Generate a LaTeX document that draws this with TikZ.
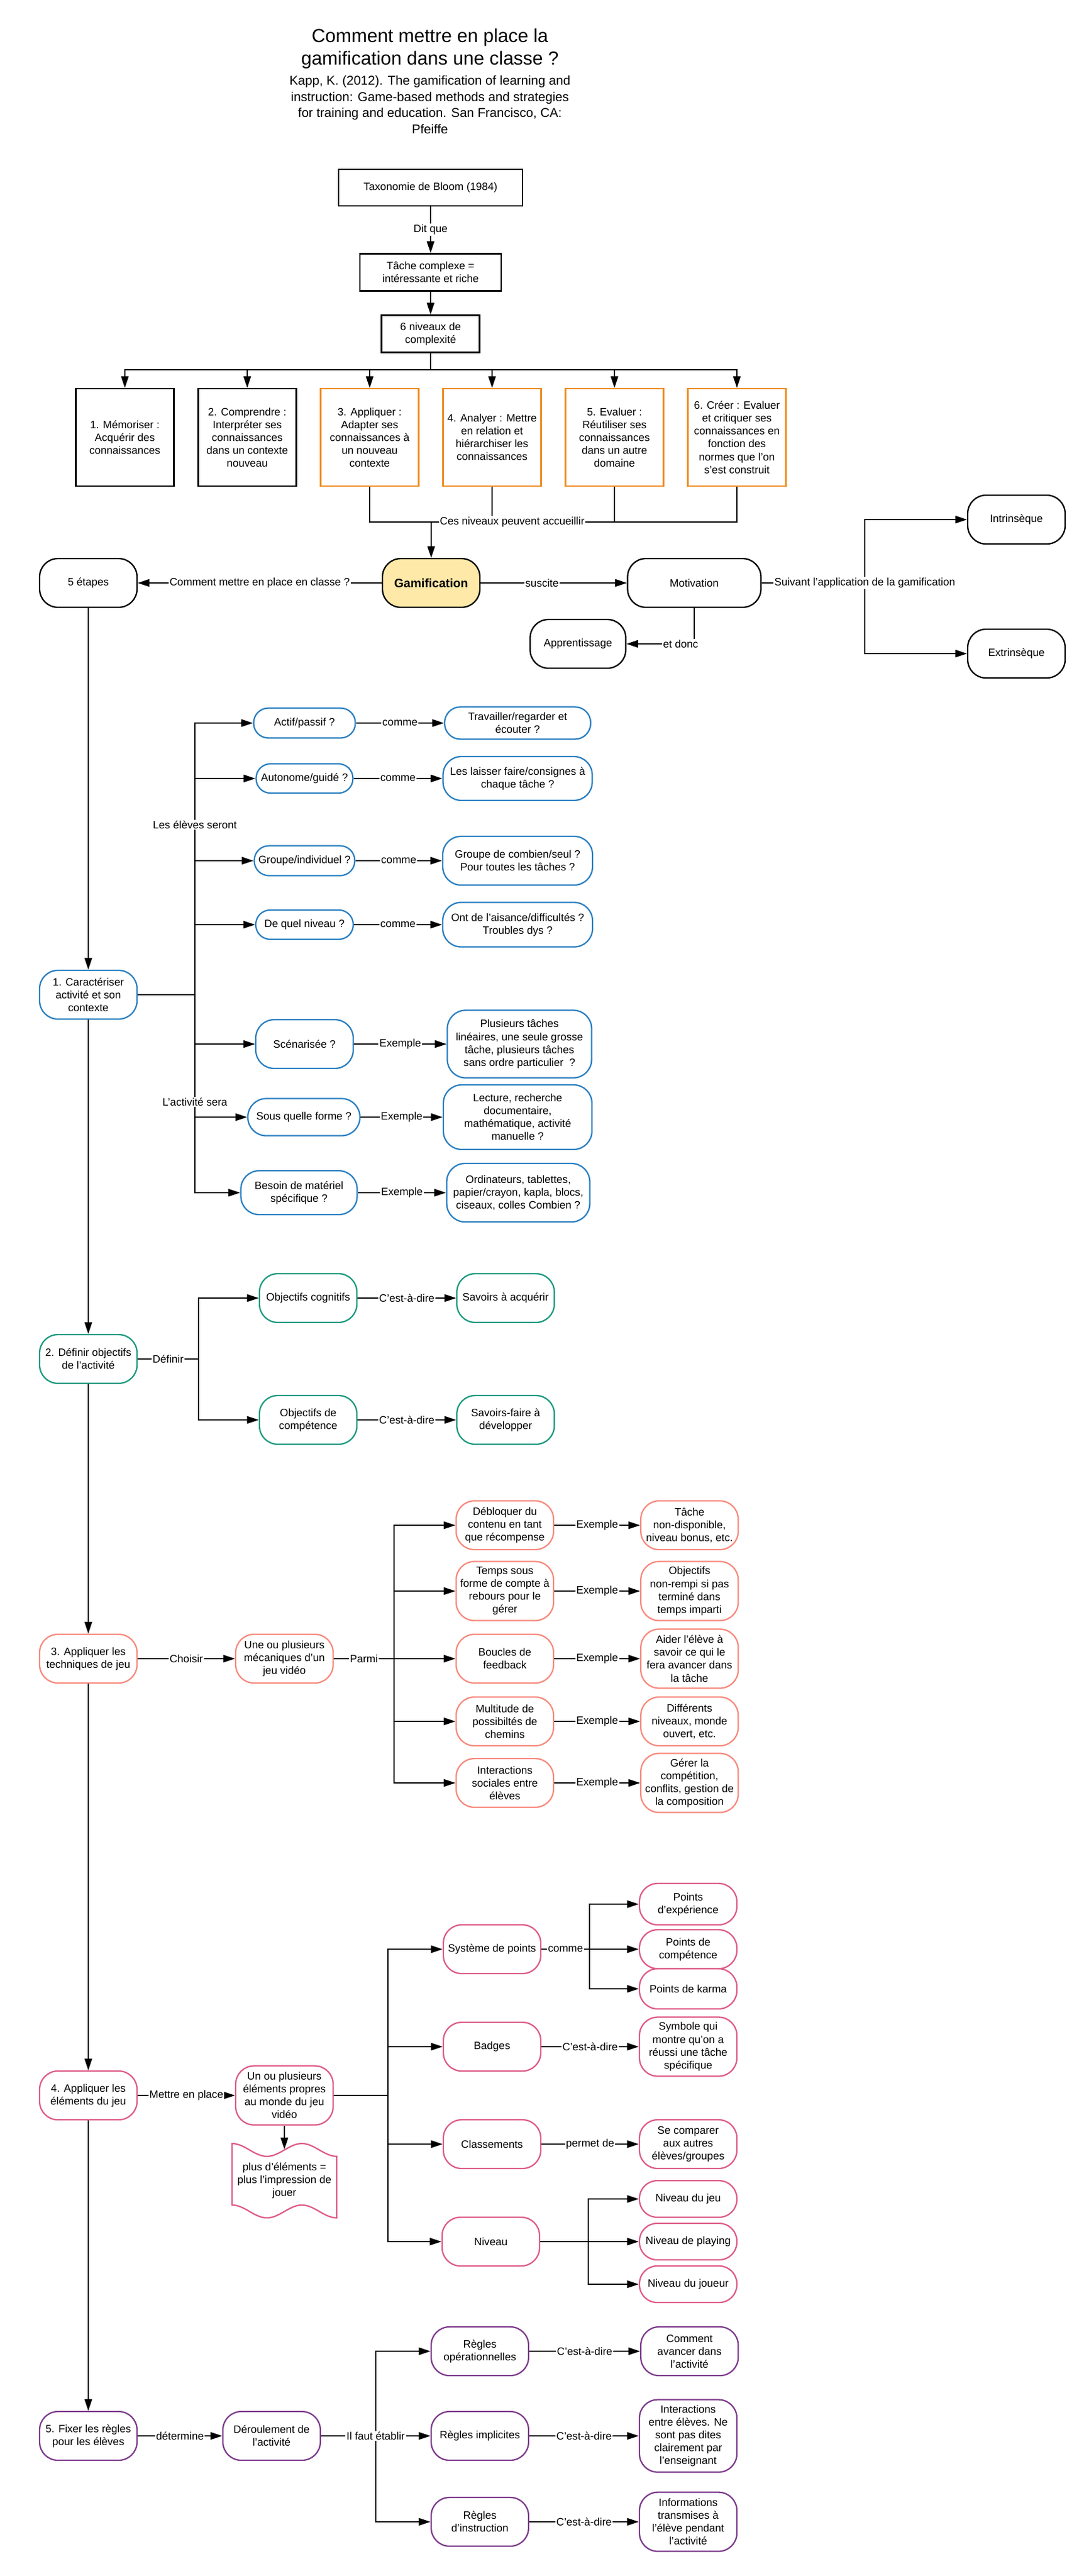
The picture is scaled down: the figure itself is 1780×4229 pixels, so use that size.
\documentclass[tikz,border=0pt]{standalone}
\usepackage{fontspec}
\setmainfont{Liberation Sans}
\usetikzlibrary{arrows.meta,positioning}

\definecolor{orangeb}{HTML}{EF8D22}
\definecolor{bleu}{HTML}{2A7FC1}
\definecolor{sarcelle}{HTML}{1C9A80}
\definecolor{saumon}{HTML}{F8897C}
\definecolor{rose}{HTML}{DE5B86}
\definecolor{violet}{HTML}{7D3A8C}
\definecolor{jaune}{HTML}{FFE9A8}

\tikzset{
  texte/.style={font=\fontsize{10}{12}\selectfont},
  lbl/.style={texte, fill=white, inner sep=1pt},
  cadre/.style={texte, draw, line width=1.3pt, align=center, inner sep=2pt},
  palier/.style={cadre, minimum width=3.22cm, minimum height=3.2cm},
  largeur/.style={minimum width=#1},
  bulle/.style={texte, draw, line width=1.3pt, align=center, rectangle,
    rounded corners=0.6cm, inner sep=2pt, minimum width=3.2cm, minimum height=1.6cm},
  hauteur/.style n args={2}{minimum height=#1cm, rounded corners=#2cm},
  s1/.style={bulle, draw=bleu},
  s2/.style={bulle, draw=sarcelle},
  s3/.style={bulle, draw=saumon},
  s4/.style={bulle, draw=rose},
  s5/.style={bulle, draw=violet}
}

\begin{document}
\begin{tikzpicture}[x=0.02cm, y=-0.02cm, >={Triangle[length=11pt,width=7pt]}, line width=1.1pt]
    \useasboundingbox (0,0) rectangle (1780,4229);

    % titre
    \node[font=\fontsize{17.6}{21}\selectfont, align=center] (titre) at (706,80) {Comment mettre en place la\\gamification dans une classe ?};
    \node[font=\fontsize{12}{15.3}\selectfont, align=center] (source) at (706,172) {Kapp, K. (2012). The gamification of learning and\\instruction: Game-based methods and strategies\\for training and education. San Francisco, CA:\\Pfeiffe};

    % Bloom
    \node[cadre, minimum width=6.04cm, minimum height=1.2cm] (bloom) at (707,308) {Taxonomie de Bloom (1984)};
    \node[cadre, minimum width=4.64cm, minimum height=1.22cm] (tache) at (707,447) {Tâche complexe =\\intéressante et riche}; \draw[->] (bloom) -- node[lbl]{Dit que} (tache);
    \node[cadre, minimum width=3.22cm, minimum height=1.22cm] (six) at (707,548) {6 niveaux de\\complexité}; \draw[->] (tache) -- (six);

    \node[palier] (n1) at (205,718) {1. Mémoriser :\\Acquérir des\\connaissances};
    \node[palier] (n2) at (406,718) {2. Comprendre :\\Interpréter ses\\connaissances\\dans un contexte\\nouveau};
    \node[palier, draw=orangeb] (n3) at (607,718) {3. Appliquer :\\Adapter ses\\connaissances à\\un nouveau\\contexte};
    \node[palier, draw=orangeb] (n4) at (808,718) {4. Analyer : Mettre\\en relation et\\hiérarchiser les\\connaissances};
    \node[palier, draw=orangeb] (n5) at (1009,718) {5. Evaluer :\\Réutiliser ses\\connaissances\\dans un autre\\domaine};
    \node[palier, draw=orangeb] (n6) at (1210,718) {6. Créer : Evaluer\\et critiquer ses\\connaissances en\\fonction des\\normes que l'on\\s'est construit};
    \coordinate (barre) at (707,607); \draw (six) -- (barre);
    \foreach \i in {1,...,6} \draw[->] (barre) -| (n\i);

    % gamification
    \node[bulle, fill=jaune, font=\bfseries\fontsize{11.4}{13}\selectfont] (gamif) at (708,957) {Gamification};
    \coordinate (accueil) at (708,857);
    \draw (n3) |- (accueil) -| (n6);
    \draw (n4) -- (n4 |- accueil); \draw (n5) -- (n5 |- accueil);
    \node[lbl] (accueillir) at (841,857) {Ces niveaux peuvent accueillir};
    \draw[->] (accueil) -- (gamif);

    \node[bulle] (etapes) at (145,957) {5 étapes}; \draw[->] (gamif) -- node[lbl]{Comment mettre en place en classe ?} (etapes);
    \node[bulle, largeur=4.38cm] (motiv) at (1140,957) {Motivation}; \draw[->] (gamif) -- node[lbl, pos=0.42]{suscite} (motiv);
    \node[bulle, largeur=3.14cm] (apprent) at (949,1057) {Apprentissage}; \draw[->] (motiv) |- node[lbl, pos=0.6]{et donc} (apprent);
    \node[bulle] (intrin) at (1669,853) {Intrinsèque};
    \node[bulle] (extrin) at (1669,1073) {Extrinsèque};
    \coordinate (suivant) at (1420,957); \draw (motiv) -- (suivant);
    \draw[->] (suivant) |- (intrin); \draw[->] (suivant) |- (extrin);
    \node[lbl] (suiv) at (suivant) {Suivant l'application de la gamification};

    % 1. caracteriser
    \node[s1] (carac) at (145,1633) {1. Caractériser\\activité et son\\contexte}; \draw[->] (etapes) -- (carac);
    \coordinate (b1) at (320,1633); \draw (carac) -- (b1);
    \node[s1, largeur=3.34cm, hauteur={0.98}{0.48}] (actif) at (500,1187) {Actif/passif ?}; \draw[->] (b1) |- (actif);
    \node[s1, largeur=4.8cm, hauteur={1.06}{0.52}] (trav) at (850,1187) {Travailler/regarder et\\écouter ?}; \draw[->] (actif) -- node[lbl]{comme} (trav);
    \node[s1, largeur=3.18cm, hauteur={0.96}{0.47}] (auto) at (500,1278) {Autonome/guidé ?}; \draw[->] (b1) |- (auto);
    \node[s1, largeur=4.9cm, hauteur={1.44}{0.6}] (laisser) at (850,1278) {Les laisser faire/consignes à\\chaque tâche ?}; \draw[->] (auto) -- node[lbl]{comme} (laisser);
    \node[s1, largeur=3.3cm, hauteur={0.98}{0.48}] (groupe) at (500,1413) {Groupe/individuel ?}; \draw[->] (b1) |- (groupe);
    \node[s1, largeur=4.92cm] (combien) at (850,1413) {Groupe de combien/seul ?\\Pour toutes les tâches ?}; \draw[->] (groupe) -- node[lbl]{comme} (combien);
    \node[s1, hauteur={0.96}{0.47}] (quelniv) at (500,1518) {De quel niveau ?}; \draw[->] (b1) |- (quelniv);
    \node[s1, largeur=4.92cm, hauteur={1.46}{0.6}] (aisance) at (850,1518) {Ont de l'aisance/difficultés ?\\Troubles dys ?}; \draw[->] (quelniv) -- node[lbl]{comme} (aisance);
    \node[s1] (scen) at (500,1714) {Scénarisée ?}; \draw[->] (b1) |- (scen);
    \node[s1, largeur=4.74cm, hauteur={2.22}{0.6}] (plusieurs) at (853,1714) {Plusieurs tâches\\linéaires, une seule grosse\\tâche, plusieurs tâches\\sans ordre particulier~ ?}; \draw[->] (scen) -- node[lbl]{Exemple} (plusieurs);
    \node[s1, largeur=3.68cm, hauteur={1.22}{0.6}] (forme) at (499,1834) {Sous quelle forme ?}; \draw[->] (b1) |- (forme);
    \node[s1, largeur=4.88cm, hauteur={2.12}{0.6}] (lecture) at (850,1834) {Lecture, recherche\\documentaire,\\mathématique, activité\\manuelle ?}; \draw[->] (forme) -- node[lbl]{Exemple} (lecture);
    \node[s1, largeur=3.82cm, hauteur={1.44}{0.6}] (besoin) at (491,1958) {Besoin de matériel\\spécifique ?}; \draw[->] (b1) |- (besoin);
    \node[s1, largeur=4.7cm, hauteur={1.92}{0.6}] (ordi) at (851,1958) {Ordinateurs, tablettes,\\papier/crayon, kapla, blocs,\\ciseaux, colles Combien ?}; \draw[->] (besoin) -- node[lbl]{Exemple} (ordi);
    \node[lbl] (eleves) at (320,1354) {Les élèves seront};
    \node[lbl] (activite) at (320,1809) {L'activité sera};

    % 2. objectifs
    \node[s2] (def) at (145,2231) {2. Définir objectifs\\de l'activité}; \draw[->] (carac) -- (def);
    \coordinate (b2) at (326,2231); \draw (def) -- node[lbl]{Définir} (b2);
    \node[s2] (cogn) at (506,2131) {Objectifs cognitifs}; \draw[->] (b2) |- (cogn);
    \node[s2, right=3.24cm of cogn] (sav) {Savoirs à acquérir}; \draw[->] (cogn) -- node[lbl]{C'est-à-dire} (sav);
    \node[s2] (comp) at (506,2331) {Objectifs de\\compétence}; \draw[->] (b2) |- (comp);
    \node[s2, right=3.24cm of comp] (savf) {Savoirs-faire à\\développer}; \draw[->] (comp) -- node[lbl]{C'est-à-dire} (savf);

    % 3. techniques
    \node[s3] (tech) at (145,2723) {3. Appliquer les\\techniques de jeu}; \draw[->] (def) -- (tech);
    \node[s3] (meca) at (467,2723) {Une ou plusieurs\\mécaniques d'un\\jeu vidéo}; \draw[->] (tech) -- node[lbl]{Choisir} (meca);
    \coordinate (b3) at (647,2723); \draw (meca) -- node[lbl]{Parmi} (b3);
    \node[s3] (deb) at (829,2504) {Débloquer du\\contenu en tant\\que récompense}; \draw[->] (b3) |- (deb);
    \node[s3, right=2.82cm of deb] (dispo) {Tâche\\non-disponible,\\niveau bonus, etc.}; \draw[->] (deb) -- node[lbl]{Exemple} (dispo);
    \node[s3, hauteur={1.94}{0.6}] (temps) at (829,2612) {Temps sous\\forme de compte à\\rebours pour le\\gérer}; \draw[->] (b3) |- (temps);
    \node[s3, hauteur={1.94}{0.6}, right=2.82cm of temps] (rempli) {Objectifs\\non-rempi si pas\\terminé dans\\temps imparti}; \draw[->] (temps) -- node[lbl]{Exemple} (rempli);
    \node[s3] (boucle) at (829,2723) {Boucles de\\feedback}; \draw[->] (b3) -- (boucle);
    \node[s3, hauteur={1.94}{0.6}, right=2.82cm of boucle] (aider) {Aider l'élève à\\savoir ce qui le\\fera avancer dans\\la tâche}; \draw[->] (boucle) -- node[lbl]{Exemple} (aider);
    \node[s3] (multi) at (829,2826) {Multitude de\\possibiltés de\\chemins}; \draw[->] (b3) |- (multi);
    \node[s3, right=2.82cm of multi] (diff) {Différents\\niveaux, monde\\ouvert, etc.}; \draw[->] (multi) -- node[lbl]{Exemple} (diff);
    \node[s3] (inter) at (829,2927) {Interactions\\sociales entre\\élèves}; \draw[->] (b3) |- (inter);
    \node[s3, hauteur={1.94}{0.6}, right=2.82cm of inter] (gerer) {Gérer la\\compétition,\\conflits, gestion de\\la composition}; \draw[->] (inter) -- node[lbl]{Exemple} (gerer);

    % 4. elements
    \node[s4] (elem) at (145,3440) {4. Appliquer les\\éléments du jeu}; \draw[->] (tech) -- (elem);
    \node[s4, hauteur={1.94}{0.6}] (propres) at (467,3440) {Un ou plusieurs\\éléments propres\\au monde du jeu\\vidéo}; \draw[->] (elem) -- node[lbl]{Mettre en place} (propres);
    \node[texte, align=center, minimum width=3.44cm, minimum height=2.02cm] (banniere) at (467,3580) {plus d'éléments =\\plus l'impression de\\jouer};
    \draw[rose, line width=1.3pt] (381,3519) cos (409.7,3529.5) sin (438.3,3540) cos (467,3529.5) sin (495.7,3519) cos (524.3,3529.5) sin (553,3540)
      -- (553,3641) cos (524.3,3630.5) sin (495.7,3620) cos (467,3630.5) sin (438.3,3641) cos (409.7,3630.5) sin (381,3620) -- cycle;
    \draw[->] (propres) -- (banniere);
    \coordinate (b4) at (637,3440); \draw (propres) -- (b4);
    \node[s4] (sys) at (808,3200) {Système de points}; \draw[->] (b4) |- (sys);
    \coordinate (b4a) at (968,3200); \draw (sys) -- node[lbl]{comme} (b4a);
    \node[s4, hauteur={1.36}{0.6}] (pexp) at (1130,3126) {Points\\d'expérience}; \draw[->] (b4a) |- (pexp);
    \node[s4, hauteur={1.28}{0.6}] (pcomp) at (1130,3200) {Points de\\compétence}; \draw[->] (b4a) -- (pcomp);
    \node[s4, hauteur={1.32}{0.6}] (pkarma) at (1130,3265) {Points de karma}; \draw[->] (b4a) |- (pkarma);
    \node[s4] (badges) at (808,3360) {Badges}; \draw[->] (b4) |- (badges);
    \node[s4, hauteur={1.94}{0.6}] (symb) at (1130,3360) {Symbole qui\\montre qu'on a\\réussi une tâche\\spécifique}; \draw[->] (badges) -- node[lbl]{C'est-à-dire} (symb);
    \node[s4] (classe) at (808,3520) {Classements}; \draw[->] (b4) |- (classe);
    \node[s4] (comparer) at (1130,3520) {Se comparer\\aux autres\\élèves/groupes}; \draw[->] (classe) -- node[lbl]{permet de} (comparer);
    \node[s4] (niveau) at (806,3680) {Niveau}; \draw[->] (b4) |- (niveau);
    \coordinate (b4b) at (966,3680); \draw (niveau) -- (b4b);
    \node[s4, hauteur={1.2}{0.58}] (njeu) at (1130,3610) {Niveau du jeu}; \draw[->] (b4b) |- (njeu);
    \node[s4, hauteur={1.2}{0.58}] (nplay) at (1130,3680) {Niveau de playing}; \draw[->] (b4b) -- (nplay);
    \node[s4, hauteur={1.2}{0.58}] (njoueur) at (1130,3750) {Niveau du joueur}; \draw[->] (b4b) |- (njoueur);

    % 5. regles
    \node[s5] (regles) at (145,3999) {5. Fixer les règles\\pour les élèves}; \draw[->] (elem) -- (regles);
    \node[s5] (deroul) at (446,3999) {Déroulement de\\l'activité}; \draw[->] (regles) -- node[lbl]{détermine} (deroul);
    \coordinate (b5) at (617,3999); \draw (deroul) -- (b5);
    \node[s5] (rop) at (788,3860) {Règles\\opérationnelles}; \draw[->] (b5) |- (rop);
    \node[s5] (rimp) at (788,3999) {Règles implicites}; \draw[->] (b5) -- (rimp);
    \node[s5] (rinst) at (788,4140) {Règles\\d'instruction}; \draw[->] (b5) |- (rinst);
    \node[lbl] (etablir) at (b5) {Il faut établir};
    \node[s5, right=3.64cm of rop] (avancer) {Comment\\avancer dans\\l'activité}; \draw[->] (rop) -- node[lbl]{C'est-à-dire} (avancer);
    \node[s5, hauteur={2.38}{0.6}] (interent) at (1130,3999) {Interactions\\entre élèves. Ne\\sont pas dites\\clairement par\\l'enseignant}; \draw[->] (rimp) -- node[lbl]{C'est-à-dire} (interent);
    \node[s5, hauteur={1.94}{0.6}] (infos) at (1130,4140) {Informations\\transmises à\\l'élève pendant\\l'activité}; \draw[->] (rinst) -- node[lbl]{C'est-à-dire} (infos);
\end{tikzpicture}
\end{document}
